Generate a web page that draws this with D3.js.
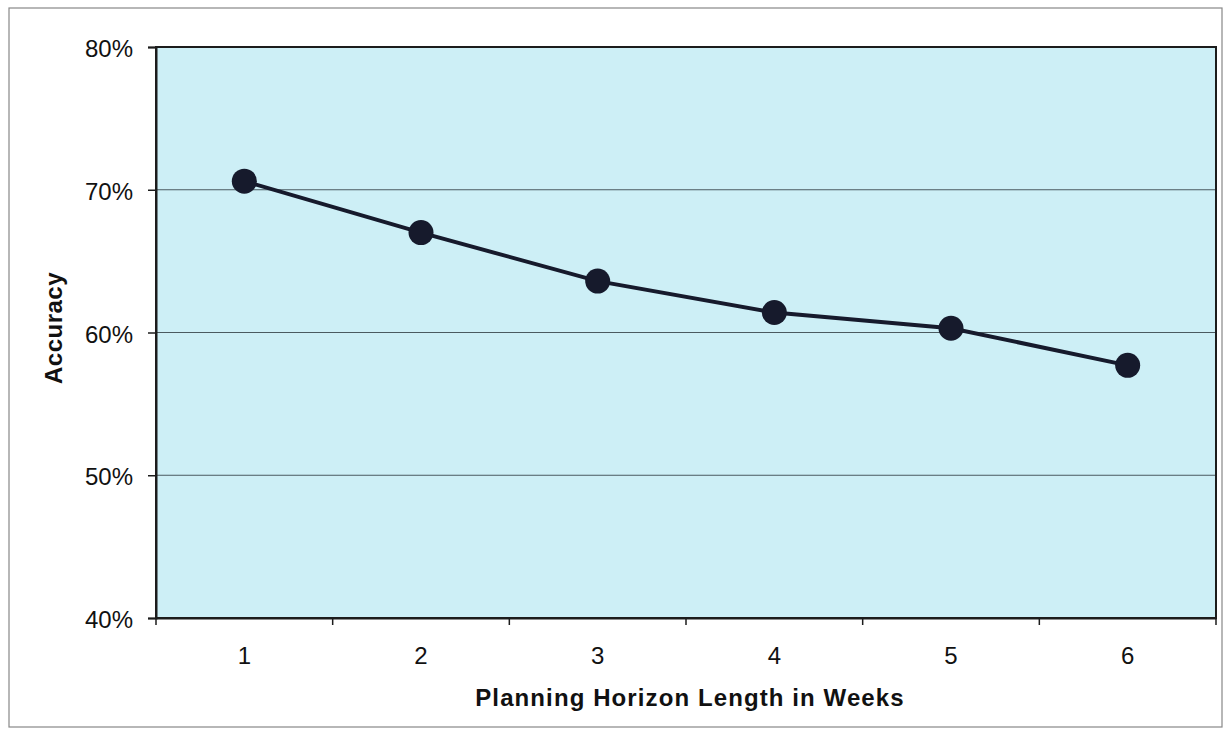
<!DOCTYPE html>
<html><head><meta charset="utf-8">
<script src="https://cdn.jsdelivr.net/npm/d3@7"></script>
<style>body{margin:0;background:#fff}svg{display:block}</style>
</head><body>
<svg id="c" width="1225" height="732"></svg>
<script>
const categories = ["1","2","3","4","5","6"];
const accuracy = [0.706, 0.670, 0.636, 0.614, 0.603, 0.577];
const yTicks = [0.4, 0.5, 0.6, 0.7, 0.8];
const xTitle = "Planning Horizon Length in Weeks";
const yTitle = "Accuracy";

const svg = d3.select("#c");
const L = 156, R = 1216, T = 47, B = 618;
const font = "Arial, 'Liberation Sans', sans-serif";

// outer frame
svg.append("rect").attr("x",9).attr("y",8).attr("width",1213).attr("height",719)
  .attr("fill","none").attr("stroke","#888").attr("stroke-width",1.2);

const x = d3.scaleBand().domain(categories).range([L,R]).padding(0);
const y = d3.scaleLinear().domain([0.4,0.8]).range([B,T]);

// plot background
svg.append("rect").attr("x",L).attr("y",T).attr("width",R-L).attr("height",B-T).attr("fill","#cdeff6");

// gridlines
svg.append("g").selectAll("line").data(yTicks.filter(d=>d>0.4 && d<0.8)).join("line")
  .attr("x1",L).attr("x2",R).attr("y1",d=>y(d)).attr("y2",d=>y(d))
  .attr("stroke","#4a5a60").attr("stroke-width",1);

// plot border
svg.append("rect").attr("x",L).attr("y",T).attr("width",R-L).attr("height",B-T)
  .attr("fill","none").attr("stroke","#1c1c1c").attr("stroke-width",2);

// y axis
const yAxis = d3.axisLeft(y).tickValues(yTicks).tickFormat(d3.format(".0%")).tickSize(8).tickPadding(15);
const gy = svg.append("g").attr("transform",`translate(${L},0)`).call(yAxis);
gy.select(".domain").attr("stroke","#1c1c1c").attr("stroke-width",2);
gy.selectAll(".tick line").attr("stroke","#1c1c1c").attr("stroke-width",1.5);
gy.selectAll("text").attr("font-family",font).attr("font-size",24).attr("fill","#111").attr("dy","0.4em");

// x axis: ticks at category boundaries
const xAxis = d3.axisBottom(x).tickSize(0).tickPadding(29);
const gx = svg.append("g").attr("transform",`translate(0,${B})`).call(xAxis);
gx.select(".domain").attr("stroke","#1c1c1c").attr("stroke-width",2);
gx.selectAll("text").attr("font-family",font).attr("font-size",24).attr("fill","#111");
const bounds = categories.map(c=>x(c)).concat([x(categories[categories.length-1])+x.bandwidth()]);
gx.selectAll("line.bt").data(bounds).join("line").attr("class","bt")
  .attr("x1",d=>d).attr("x2",d=>d).attr("y1",0).attr("y2",7)
  .attr("stroke","#1c1c1c").attr("stroke-width",1.5);

// line and markers
const cx = d => x(d) + x.bandwidth()/2;
const pts = categories.map((c,i)=>[cx(c), y(accuracy[i])]);
svg.append("path").attr("d", d3.line()(pts)).attr("fill","none")
  .attr("stroke","#161a2c").attr("stroke-width",4);
svg.append("g").selectAll("circle").data(pts).join("circle")
  .attr("cx",d=>d[0]).attr("cy",d=>d[1]).attr("r",12.5).attr("fill","#161a2c");

// titles
svg.append("text").attr("x",690).attr("y",706).attr("text-anchor","middle")
  .attr("font-family",font).attr("font-weight","bold").attr("font-size",24)
  .attr("letter-spacing",1.1).attr("fill","#111").text(xTitle);
svg.append("text").attr("transform",`translate(62,328) rotate(-90)`).attr("text-anchor","middle")
  .attr("font-family",font).attr("font-weight","bold").attr("font-size",24)
  .attr("letter-spacing",0.5).attr("fill","#111").text(yTitle);
</script>
</body></html>
